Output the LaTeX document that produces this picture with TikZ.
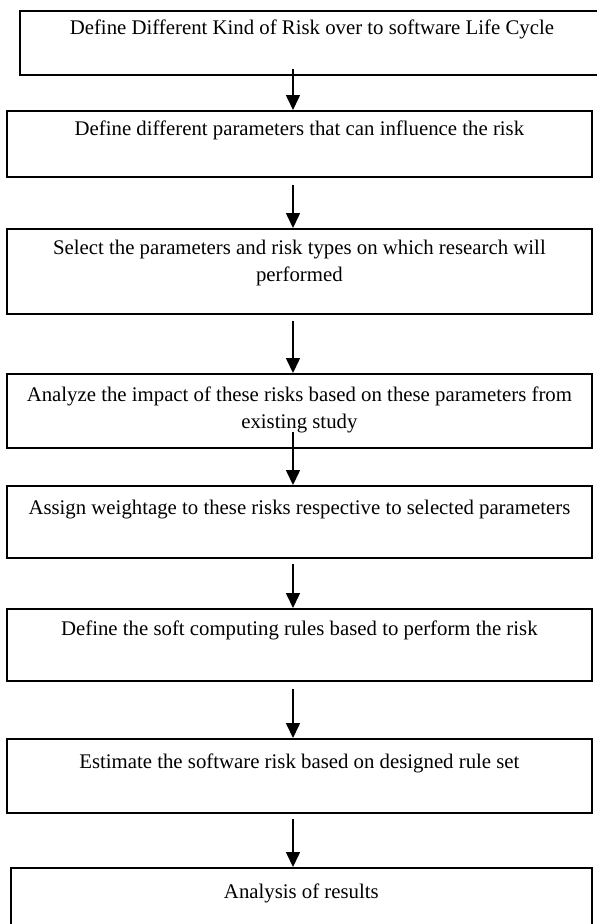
\documentclass[tikz,border=0pt]{standalone}
\usepackage{fontspec}
\setmainfont{Liberation Serif}
\usetikzlibrary{arrows.meta}
\newcommand{\flowtext}[4]{\parbox[b][#2][t]{#1}{\centering\rule{0pt}{#3}#4}}
\tikzset{
  stepbox/.style={draw=black, line width=1.8pt, inner sep=0pt, anchor=north west,
    font=\fontsize{20.8}{26.5}\selectfont},
  flowarrow/.style={line width=1.6pt, -{Triangle[width=14pt,length=15pt]}}
}
\begin{document}
\begin{tikzpicture}[x=1pt,y=-1pt]
\useasboundingbox (0,0) rectangle (597,924);
\fill[white] (0,0) rectangle (597,924);
\coordinate (ax) at (293,0);
\node[stepbox] (b1) at (19,10) {\flowtext{584pt}{64pt}{24pt}{Define Different Kind of Risk over to software Life Cycle}};
\node[stepbox] (b2) at (6,110) {\flowtext{585pt}{66pt}{25pt}{Define different parameters that can influence the risk}};
\node[stepbox] (b3) at (6,228) {\flowtext{585pt}{85pt}{26pt}{Select the parameters and risk types on which research will\\performed}};
\node[stepbox] (b4) at (6,373) {\flowtext{585pt}{74pt}{28pt}{Analyze the impact of these risks based on these parameters from\\existing study}};
\node[stepbox] (b5) at (6,485) {\flowtext{585pt}{72pt}{29pt}{Assign weightage to these risks respective to selected parameters}};
\node[stepbox] (b6) at (6,608) {\flowtext{585pt}{72pt}{27pt}{Define the soft computing rules based to perform the risk}};
\node[stepbox] (b7) at (6,738) {\flowtext{585pt}{74pt}{30pt}{Estimate the software risk based on designed rule set}};
\node[stepbox] (b8) at (10,867) {\flowtext{581pt}{80pt}{31pt}{Analysis of results}};
\draw[flowarrow] ([yshift=7pt]b1.south -| ax) -- (b2.north -| ax);
\draw[flowarrow] ([yshift=-7pt]b2.south -| ax) -- (b3.north -| ax);
\draw[flowarrow] ([yshift=-6pt]b3.south -| ax) -- (b4.north -| ax);
\draw[flowarrow] ([yshift=17pt]b4.south -| ax) -- (b5.north -| ax);
\draw[flowarrow] ([yshift=-5pt]b5.south -| ax) -- (b6.north -| ax);
\draw[flowarrow] ([yshift=-7pt]b6.south -| ax) -- (b7.north -| ax);
\draw[flowarrow] ([yshift=-5pt]b7.south -| ax) -- (b8.north -| ax);
\end{tikzpicture}
\end{document}
